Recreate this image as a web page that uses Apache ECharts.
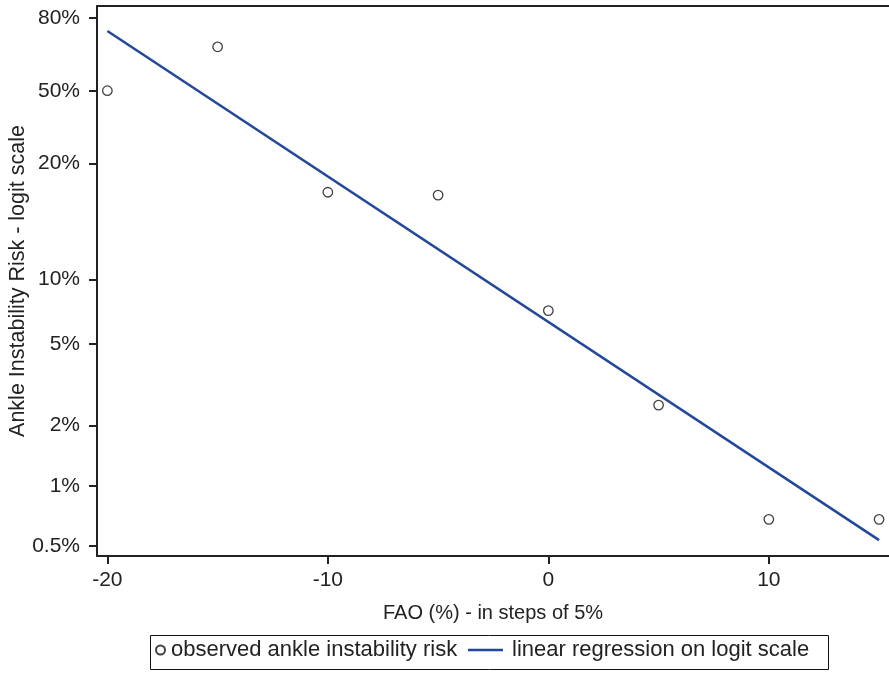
<!DOCTYPE html>
<html>
<head>
<meta charset="utf-8">
<script src="https://cdn.jsdelivr.net/npm/echarts@6/dist/echarts.min.js"></script>
<style>
  html, body { margin: 0; padding: 0; background: #fff; }
  #chart { width: 889px; height: 680px; }
</style>
</head>
<body>
<div id="chart"></div>
<script>
// ---- data ----
const faoSteps = [-20, -15, -10, -5, 0, 5, 10, 15];              // FAO (%)
const observedRisk = [0.50, 0.625, 0.235, 0.229, 0.072, 0.0252, 0.0068, 0.0068];
const regressionX = [-20, 15];                                    // fitted line end points
const regressionRisk = [0.667, 0.00535];
// y tick labels as printed, and the risk level on the logit scale where each is printed
const yTickLabels = ['80%', '50%', '20%', '10%', '5%', '2%', '1%', '0.5%'];
const yTickRisk = [0.70, 0.50, 0.30, 0.10, 0.05, 0.02, 0.01, 0.005];
const xTickValues = [-20, -10, 0, 10];
const legendNames = ['observed ankle instability risk', 'linear regression on logit scale'];

const logit = p => Math.log(p / (1 - p));

const scatterData = faoSteps.map((x, i) => [x, logit(observedRisk[i])]);
const lineData = regressionX.map((x, i) => [x, logit(regressionRisk[i])]);
const yTickPos = yTickRisk.map(logit);
const labelByPos = {};
yTickPos.forEach((v, i) => { labelByPos[v.toFixed(4)] = yTickLabels[i]; });

const FONT = 'Liberation Sans, Arial, Helvetica, sans-serif';
const INK = '#222';
const LEG_FONT = 22;

// measure first legend text to place the second legend item after it
const ctx = document.createElement('canvas').getContext('2d');
ctx.font = LEG_FONT + 'px ' + FONT;
const firstTextW = ctx.measureText(legendNames[0]).width;
const leg1Left = 155;
const leg2Left = Math.round(leg1Left + 9 + 6 + firstTextW + 12);

const chart = echarts.init(document.getElementById('chart'), null, { renderer: 'canvas' });
chart.setOption({
  animation: false,
  backgroundColor: '#fff',
  textStyle: { fontFamily: FONT },
  grid: { left: 97, right: 0, top: 6, bottom: 124, outerBoundsMode: 'none', containLabel: false },
  xAxis: [{
    type: 'value', min: -20.47, max: 15.45,
    name: 'FAO (%) - in steps of 5%', nameLocation: 'middle', nameGap: 47,
    nameTextStyle: { fontSize: 20, color: INK, fontFamily: FONT },
    axisLine: { show: true, onZero: false, lineStyle: { color: INK, width: 2 } },
    axisTick: { show: true, length: 8, customValues: xTickValues, lineStyle: { color: INK, width: 2 } },
    axisLabel: { customValues: xTickValues, margin: 14, fontSize: 21, color: INK, fontFamily: FONT },
    splitLine: { show: false }
  }, {
    type: 'value', position: 'top', min: -20.47, max: 15.45,
    axisLine: { show: true, onZero: false, lineStyle: { color: INK, width: 2 } },
    axisTick: { show: false }, axisLabel: { show: false }, splitLine: { show: false }
  }],
  yAxis: {
    type: 'value', min: -5.41, max: 0.985,
    name: 'Ankle Instability Risk - logit scale', nameLocation: 'middle', nameGap: 68,
    nameMoveOverlap: false,
    nameTextStyle: { fontSize: 21.5, color: INK, fontFamily: FONT },
    axisLine: { show: true, onZero: false, lineStyle: { color: INK, width: 2 } },
    axisTick: { show: true, length: 8, customValues: yTickPos, lineStyle: { color: INK, width: 2 } },
    axisLabel: {
      customValues: yTickPos, margin: 17, fontSize: 21, color: INK, fontFamily: FONT,
      formatter: v => labelByPos[Number(v).toFixed(4)] || ''
    },
    splitLine: { show: false }
  },
  legend: [{
    left: leg1Left, top: 639, padding: 0, itemGap: 0,
    itemWidth: 9, itemHeight: 9, itemSymbolKeepAspect: true,
    textStyle: { fontSize: LEG_FONT, color: INK, fontFamily: FONT, padding: [0, 0, 0, 1] },
    data: [{ name: legendNames[0], icon: 'circle' }]
  }, {
    left: leg2Left, top: 639, padding: 0,
    itemWidth: 35, itemHeight: 2.5,
    textStyle: { fontSize: LEG_FONT, color: INK, fontFamily: FONT, padding: [0, 0, 0, 4] },
    data: [{ name: legendNames[1], icon: 'rect' }]
  }],
  graphic: [{
    type: 'rect', left: 148, top: 633,
    shape: { width: 678, height: 34 },
    style: { fill: 'none', stroke: '#111', lineWidth: 1 }
  }],
  series: [{
    name: legendNames[1],
    type: 'line', data: lineData, showSymbol: false, symbol: 'none',
    lineStyle: { color: '#23489a', width: 2.5 },
    itemStyle: { color: '#23489a' },
    z: 2
  }, {
    name: legendNames[0],
    type: 'scatter', data: scatterData,
    symbol: 'circle', symbolSize: 9.5,
    itemStyle: { color: '#fff', borderColor: '#111', borderWidth: 1.3 },
    z: 3
  }]
});
</script>
</body>
</html>
